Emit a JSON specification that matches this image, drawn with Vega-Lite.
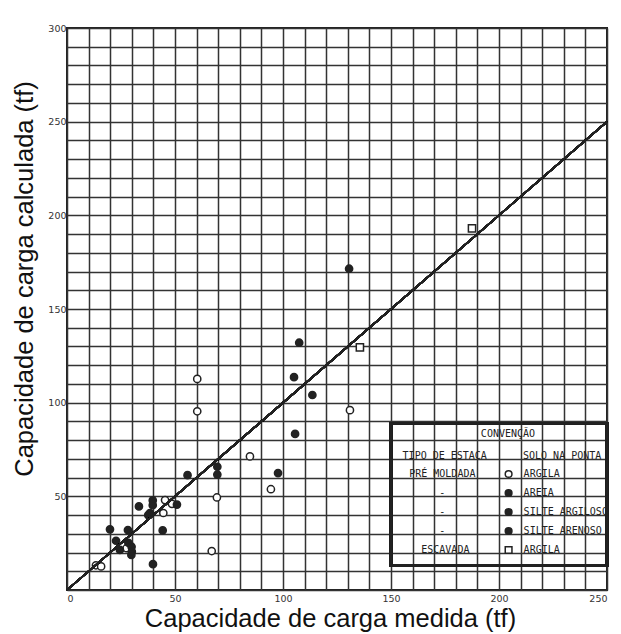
{
  "$schema": "https://vega.github.io/schema/vega-lite/v6.json",
  "width": 540,
  "height": 562,
  "autosize": "none",
  "padding": {"left": 67, "top": 28, "right": 14, "bottom": 44},
  "background": "white",
  "config": {
    "view": {"stroke": "#222", "strokeWidth": 2},
    "axis": {"grid": true, "gridColor": "#333", "gridWidth": 1.5, "gridOpacity": 1, "ticks": false, "domain": false,
      "labelFont": "DejaVu Sans", "labelFontSize": 9.5, "labelColor": "#333", "labelOverlap": false,
      "titleFont": "Liberation Sans", "titleFontSize": 25.5, "titleFontWeight": "normal", "titleColor": "#111"}
  },
  "data": {"values": [
    {"medida": 13.4, "calculada": 13.2, "grupo": "PRÉ MOLDADA / ARGILA"},
    {"medida": 15.8, "calculada": 12.6, "grupo": "PRÉ MOLDADA / ARGILA"},
    {"medida": 27.6, "calculada": 22.3, "grupo": "PRÉ MOLDADA / ARGILA"},
    {"medida": 44.6, "calculada": 41.1, "grupo": "PRÉ MOLDADA / ARGILA"},
    {"medida": 45.4, "calculada": 48.0, "grupo": "PRÉ MOLDADA / ARGILA"},
    {"medida": 48.6, "calculada": 46.0, "grupo": "PRÉ MOLDADA / ARGILA"},
    {"medida": 67.0, "calculada": 20.8, "grupo": "PRÉ MOLDADA / ARGILA"},
    {"medida": 60.3, "calculada": 112.7, "grupo": "PRÉ MOLDADA / ARGILA"},
    {"medida": 60.3, "calculada": 95.4, "grupo": "PRÉ MOLDADA / ARGILA"},
    {"medida": 69.4, "calculada": 49.4, "grupo": "PRÉ MOLDADA / ARGILA"},
    {"medida": 84.7, "calculada": 71.3, "grupo": "PRÉ MOLDADA / ARGILA"},
    {"medida": 94.4, "calculada": 53.8, "grupo": "PRÉ MOLDADA / ARGILA"},
    {"medida": 131.0, "calculada": 96.0, "grupo": "PRÉ MOLDADA / ARGILA"},
    {"medida": 19.9, "calculada": 32.4, "grupo": "PRÉ MOLDADA / AREIA"},
    {"medida": 22.7, "calculada": 26.3, "grupo": "PRÉ MOLDADA / AREIA"},
    {"medida": 28.2, "calculada": 32.0, "grupo": "PRÉ MOLDADA / AREIA"},
    {"medida": 28.4, "calculada": 25.2, "grupo": "PRÉ MOLDADA / AREIA"},
    {"medida": 24.5, "calculada": 21.4, "grupo": "PRÉ MOLDADA / AREIA"},
    {"medida": 29.9, "calculada": 23.1, "grupo": "PRÉ MOLDADA / SILTE ARGILOSO"},
    {"medida": 30.0, "calculada": 20.5, "grupo": "PRÉ MOLDADA / SILTE ARGILOSO"},
    {"medida": 29.8, "calculada": 18.7, "grupo": "PRÉ MOLDADA / SILTE ARENOSO"},
    {"medida": 33.3, "calculada": 44.6, "grupo": "PRÉ MOLDADA / AREIA"},
    {"medida": 39.7, "calculada": 47.8, "grupo": "PRÉ MOLDADA / AREIA"},
    {"medida": 39.7, "calculada": 45.3, "grupo": "PRÉ MOLDADA / SILTE ARGILOSO"},
    {"medida": 38.4, "calculada": 41.0, "grupo": "PRÉ MOLDADA / SILTE ARENOSO"},
    {"medida": 37.6, "calculada": 40.0, "grupo": "PRÉ MOLDADA / AREIA"},
    {"medida": 44.3, "calculada": 31.8, "grupo": "PRÉ MOLDADA / SILTE ARGILOSO"},
    {"medida": 39.8, "calculada": 13.8, "grupo": "PRÉ MOLDADA / SILTE ARENOSO"},
    {"medida": 50.9, "calculada": 45.6, "grupo": "PRÉ MOLDADA / AREIA"},
    {"medida": 55.8, "calculada": 61.3, "grupo": "PRÉ MOLDADA / SILTE ARGILOSO"},
    {"medida": 69.6, "calculada": 65.8, "grupo": "PRÉ MOLDADA / AREIA"},
    {"medida": 69.6, "calculada": 61.6, "grupo": "PRÉ MOLDADA / SILTE ARENOSO"},
    {"medida": 97.7, "calculada": 62.4, "grupo": "PRÉ MOLDADA / SILTE ARGILOSO"},
    {"medida": 105.6, "calculada": 83.3, "grupo": "PRÉ MOLDADA / AREIA"},
    {"medida": 105.1, "calculada": 113.6, "grupo": "PRÉ MOLDADA / SILTE ARENOSO"},
    {"medida": 107.5, "calculada": 132.0, "grupo": "PRÉ MOLDADA / AREIA"},
    {"medida": 113.6, "calculada": 104.1, "grupo": "PRÉ MOLDADA / SILTE ARGILOSO"},
    {"medida": 130.6, "calculada": 171.5, "grupo": "PRÉ MOLDADA / AREIA"},
    {"medida": 135.6, "calculada": 129.5, "grupo": "ESCAVADA / ARGILA"},
    {"medida": 187.5, "calculada": 193.0, "grupo": "ESCAVADA / ARGILA"}
  ]},
  "layer": [
    {
      "mark": {"type": "point", "filled": true, "strokeWidth": 1.5, "size": 52, "opacity": 1},
      "encoding": {
        "x": {"field": "medida", "type": "quantitative",
          "scale": {"domain": [0, 250], "nice": false},
          "axis": {"grid": true, "values": [0,10,20,30,40,50,60,70,80,90,100,110,120,130,140,150,160,170,180,190,200,210,220,230,240,250],
            "labelExpr": "datum.value % 50 === 0 ? datum.label : ''", "labelPadding": 3,
            "title": "Capacidade de carga medida (tf)", "titleX": 263, "titleY": 36.5, "titleBaseline": "alphabetic", "titleAlign": "center"}},
        "y": {"field": "calculada", "type": "quantitative",
          "scale": {"domain": [0, 300], "nice": false},
          "axis": {"grid": true, "values": [0,10,20,30,40,50,60,70,80,90,100,110,120,130,140,150,160,170,180,190,200,210,220,230,240,250,260,270,280,290,300],
            "labelExpr": "datum.value % 50 === 0 && datum.value > 0 ? datum.label : ''", "labelPadding": 1,
            "title": "Capacidade de carga calculada (tf)", "titleX": -35, "titleY": 250.5, "titleAngle": -90, "titleBaseline": "alphabetic", "titleAlign": "center"}},
        "shape": {"field": "grupo", "type": "nominal",
          "scale": {"domain": ["PRÉ MOLDADA / ARGILA", "PRÉ MOLDADA / AREIA", "PRÉ MOLDADA / SILTE ARGILOSO", "PRÉ MOLDADA / SILTE ARENOSO", "ESCAVADA / ARGILA"],
            "range": ["circle", "circle", "circle", "circle", "square"]},
          "legend": {
            "orient": "none", "legendX": 335.6, "legendY": 401, "padding": 0,
            "title": ["\u200b\u00a0\u00a0\u00a0\u00a0\u00a0\u00a0\u00a0\u00a0\u00a0\u00a0\u00a0\u00a0\u00a0CONVENÇÃO", "TIPO\u00a0DE\u00a0ESTACA\u00a0\u00a0\u00a0\u00a0\u00a0\u00a0SOLO\u00a0NA\u00a0PONTA"],
            "titleFont": "DejaVu Sans Mono", "titleFontSize": 10, "titleFontWeight": "normal", "titleColor": "#222",
            "titleLineHeight": 22, "titleLimit": 400, "titlePadding": 8,
            "labelFont": "DejaVu Sans Mono", "labelFontSize": 10, "labelColor": "#222", "labelLimit": 400,
            "labelOffset": -110.4, "symbolOffset": 101, "rowPadding": 5,
            "symbolSize": 45, "symbolStrokeWidth": 1.5,
            "labelExpr": "datum.label == 'PRÉ MOLDADA / ARGILA' ? '\u200b\u00a0PRÉ\u00a0MOLDADA\u00a0\u00a0\u00a0\u00a0\u00a0\u00a0\u00a0\u00a0ARGILA' : datum.label == 'PRÉ MOLDADA / AREIA' ? '\u200b\u00a0\u00a0\u00a0\u00a0\u00a0\u00a0-\u00a0\u00a0\u00a0\u00a0\u00a0\u00a0\u00a0\u00a0\u00a0\u00a0\u00a0\u00a0\u00a0AREIA' : datum.label == 'PRÉ MOLDADA / SILTE ARGILOSO' ? '\u200b\u00a0\u00a0\u00a0\u00a0\u00a0\u00a0-\u00a0\u00a0\u00a0\u00a0\u00a0\u00a0\u00a0\u00a0\u00a0\u00a0\u00a0\u00a0\u00a0SILTE\u00a0ARGILOSO' : datum.label == 'PRÉ MOLDADA / SILTE ARENOSO' ? '\u200b\u00a0\u00a0\u00a0\u00a0\u00a0\u00a0-\u00a0\u00a0\u00a0\u00a0\u00a0\u00a0\u00a0\u00a0\u00a0\u00a0\u00a0\u00a0\u00a0SILTE\u00a0ARENOSO' : '\u200b\u00a0\u00a0\u00a0ESCAVADA\u00a0\u00a0\u00a0\u00a0\u00a0\u00a0\u00a0\u00a0\u00a0ARGILA'"
          }},
        "fill": {"field": "grupo", "type": "nominal",
          "scale": {"domain": ["PRÉ MOLDADA / ARGILA", "PRÉ MOLDADA / AREIA", "PRÉ MOLDADA / SILTE ARGILOSO", "PRÉ MOLDADA / SILTE ARENOSO", "ESCAVADA / ARGILA"],
            "range": ["white", "#222", "#222", "#222", "white"]}},
        "stroke": {"field": "grupo", "type": "nominal",
          "scale": {"domain": ["PRÉ MOLDADA / ARGILA", "PRÉ MOLDADA / AREIA", "PRÉ MOLDADA / SILTE ARGILOSO", "PRÉ MOLDADA / SILTE ARENOSO", "ESCAVADA / ARGILA"],
            "range": ["#222", "#222", "#222", "#222", "#222"]}}
      }
    },
    {
      "mark": {"type": "rule", "color": "#222", "strokeWidth": 1.6},
      "encoding": {
        "x": {"datum": 0, "type": "quantitative",
          "axis": {"grid": true, "values": [0,10,20,30,40,50,60,70,80,90,100,110,120,130,140,150,160,170,180,190,200,210,220,230,240,250],
            "labelExpr": "datum.value % 50 === 0 ? datum.label : ''", "labelPadding": 3,
            "title": "Capacidade de carga medida (tf)", "titleX": 263, "titleY": 36.5, "titleBaseline": "alphabetic", "titleAlign": "center"}},
        "y": {"datum": 0, "type": "quantitative",
          "axis": {"grid": true, "values": [0,10,20,30,40,50,60,70,80,90,100,110,120,130,140,150,160,170,180,190,200,210,220,230,240,250,260,270,280,290,300],
            "labelExpr": "datum.value % 50 === 0 && datum.value > 0 ? datum.label : ''", "labelPadding": 1,
            "title": "Capacidade de carga calculada (tf)", "titleX": -35, "titleY": 250.5, "titleAngle": -90, "titleBaseline": "alphabetic", "titleAlign": "center"}},
        "x2": {"datum": 250},
        "y2": {"datum": 250}
      }
    },
    {
      "mark": {"type": "rect", "fill": "white", "fillOpacity": 0, "stroke": "#222", "strokeWidth": 2.2},
      "encoding": {
        "x": {"datum": 150, "type": "quantitative",
          "axis": {"grid": true, "values": [0,10,20,30,40,50,60,70,80,90,100,110,120,130,140,150,160,170,180,190,200,210,220,230,240,250],
            "labelExpr": "datum.value % 50 === 0 ? datum.label : ''", "labelPadding": 3,
            "title": "Capacidade de carga medida (tf)", "titleX": 263, "titleY": 36.5, "titleBaseline": "alphabetic", "titleAlign": "center"}},
        "x2": {"datum": 250},
        "y": {"datum": 13, "type": "quantitative",
          "axis": {"grid": true, "values": [0,10,20,30,40,50,60,70,80,90,100,110,120,130,140,150,160,170,180,190,200,210,220,230,240,250,260,270,280,290,300],
            "labelExpr": "datum.value % 50 === 0 && datum.value > 0 ? datum.label : ''", "labelPadding": 1,
            "title": "Capacidade de carga calculada (tf)", "titleX": -35, "titleY": 250.5, "titleAngle": -90, "titleBaseline": "alphabetic", "titleAlign": "center"}},
        "y2": {"datum": 89}
      }
    }
  ]
}
